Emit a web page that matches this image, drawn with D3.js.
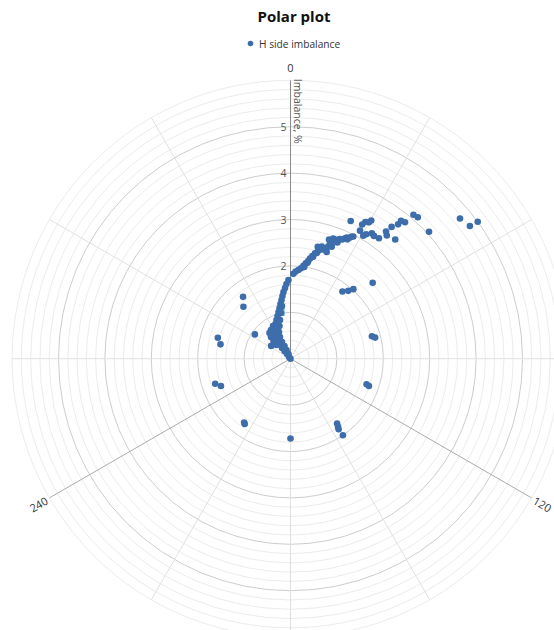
<!DOCTYPE html>
<html><head><meta charset="utf-8">
<script src="https://cdn.jsdelivr.net/npm/d3@7/dist/d3.min.js"></script>
<style>body{margin:0;background:#fff}svg{display:block}</style>
</head><body><svg id="c" width="554" height="630"></svg>
<script>
const chartTitle = "Polar plot";
const seriesName = "H side imbalance";
const axisTitle = "Imbalance, %";
const radialTicks = [1, 2, 3, 4, 5];
const angleLabels = [0, 120, 240];
const angleDeg = [
  0,
  358.5, 356.9, 355.6, 354.0, 352.7, 351.3, 349.6, 347.8, 345.6, 343.1, 340.1, 336.6, 332.5,
  328.3, 325.7, 324.2, 323.2, 321.5, 322.1, 323.3, 318.6,
  344.8, 341.4, 336.7, 334.2, 333, 334.7, 335.3, 337, 348.3, 350.8,
  331.8, 325.8, 320.7, 318.1, 316.2, 314.4,
  335.6, 331.3, 340.2, 329.5, 322.8, 334.7,
  1.9, 3.4, 5, 6.6, 7.9, 9.1, 10.3, 11, 12, 13.1, 14.4,
  13.7, 15.6, 17.2, 18.7, 18.6, 18.9, 17.9, 19.6, 21.7, 24.4, 20.2, 19.2, 21.3, 22.5,
  24.9, 26.6, 27.2, 28.5, 30.6, 31.3, 33, 34.2, 36.3, 23.6, 28.1, 28.7, 29.9, 30.3,
  36.9, 38, 41.3, 37.5, 38.7, 38.7, 40, 40.5, 42, 47.5, 50.4, 53.5, 53.8,
  8.5, 10, 12.5, 14, 16, 20, 22, 23.5, 25.5, 26,
  322.5, 317.8, 286.1, 281.6, 304.3, 303.5, 251.6, 248.6, 215, 216, 180,
  144.3, 145.1, 145.7, 145.6, 108.6, 109.2, 74.6, 76, 37.7, 40.4, 42.1, 47.3
];
const imbalancePct = [
  0,
  1.697, 1.612, 1.528, 1.445, 1.362, 1.280, 1.198, 1.118, 1.039, 0.962, 0.887, 0.815, 0.746,
  0.676, 0.592, 0.497, 0.396, 0.295, 0.210, 0.126, 0.049,
  0.864, 0.744, 0.627, 0.520, 0.404, 0.303, 0.206, 0.110, 1.006, 1.150,
  0.799, 0.748, 0.715, 0.629, 0.529, 0.422,
  0.679, 0.607, 0.795, 0.468, 0.641, 0.732,
  1.83, 1.88, 1.92, 1.96, 2.02, 2.08, 2.14, 2.20, 2.26, 2.33, 2.40,
  2.48, 2.51, 2.47, 2.43, 2.55, 2.63, 2.70, 2.75, 2.75, 2.85, 2.57, 2.69, 2.75, 2.79,
  2.88, 2.94, 2.96, 3.14, 3.08, 3.14, 3.22, 3.20, 3.22, 3.24, 3.28, 3.36, 3.39, 3.45,
  3.43, 3.37, 3.42, 3.58, 3.71, 3.81, 3.84, 4.08, 4.10, 4.05, 4.74, 4.81, 5.00,
  2.0, 2.1, 2.25, 2.35, 2.45, 2.6, 2.7, 2.8, 2.85, 2.9,
  1.68, 1.51, 1.63, 1.54, 0.93, 0.50, 1.71, 1.61, 1.72, 1.70, 1.72,
  1.72, 1.79, 1.84, 2.00, 1.73, 1.79, 1.82, 1.88, 1.83, 1.92, 2.02, 2.41
];

const FONT = "'Segoe UI','Open Sans','Noto Sans',sans-serif";
const cx = 290.5, cy = 358.7, R = 278.4, maxVal = 6;
const svg = d3.select("#c");
const rScale = d3.scaleLinear().domain([0, maxVal]).range([0, R]);
const aScale = d3.scaleLinear().domain([0, 360]).range([0, 2 * Math.PI]);
const px = (ang, v) => cx + rScale(v) * Math.sin(aScale(ang));
const py = (ang, v) => cy - rScale(v) * Math.cos(aScale(ang));

const g = svg.append("g");

// minor circles
const minor = d3.range(1, 31).map(i => i * 0.2).filter(v => Math.abs(v - Math.round(v)) > 1e-6 || v > 5.5);
g.selectAll("circle.minor").data(minor).join("circle")
  .attr("cx", cx).attr("cy", cy).attr("r", d => rScale(d))
  .attr("fill", "none").attr("stroke", "#ececec").attr("stroke-width", 1);
// major circles
g.selectAll("circle.major").data(radialTicks).join("circle")
  .attr("cx", cx).attr("cy", cy).attr("r", d => rScale(d))
  .attr("fill", "none").attr("stroke", "#cdcdcd").attr("stroke-width", 1);

// spokes
const spokes = d3.range(0, 360, 30);
g.selectAll("line.spoke").data(spokes.filter(s => !angleLabels.includes(s))).join("line")
  .attr("x1", cx).attr("y1", cy)
  .attr("x2", d => px(d, maxVal)).attr("y2", d => py(d, maxVal))
  .attr("stroke", "#e0e0e0").attr("stroke-width", 1);
g.selectAll("line.main").data(angleLabels).join("line")
  .attr("x1", cx).attr("y1", cy)
  .attr("x2", d => px(d, maxVal)).attr("y2", d => py(d, maxVal))
  .attr("stroke", d => d === 0 ? "#8a8a8a" : "#ababab").attr("stroke-width", 1);

// angle labels
g.selectAll("text.ang").data(angleLabels).join("text")
  .attr("transform", d => {
    const x = px(d, maxVal + 0.27), y = py(d, maxVal + 0.27);
    const rot = d === 0 ? 0 : (d < 180 ? d - 90 : d - 270);
    return `translate(${x},${y}) rotate(${rot})`;
  })
  .attr("text-anchor", "middle").attr("dominant-baseline", "central")
  .attr("font-family", FONT).attr("font-size", 11).attr("fill", "#333")
  .text(d => d);

// radial tick labels
g.selectAll("text.rt").data(radialTicks).join("text")
  .attr("x", cx - 4).attr("y", d => py(0, d))
  .attr("text-anchor", "end").attr("dominant-baseline", "central")
  .attr("font-family", FONT).attr("font-size", 10.5).attr("fill", "#555")
  .text(d => d);

// axis title
g.append("text")
  .attr("transform", `translate(${cx + 7},${cy - R + 31}) rotate(90)`)
  .attr("text-anchor", "middle").attr("dominant-baseline", "central")
  .attr("font-family", FONT).attr("font-size", 10.5).attr("fill", "#555")
  .text(axisTitle);

// points
const pts = angleDeg.map((a, i) => ({a, v: imbalancePct[i]}));
g.selectAll("circle.pt").data(pts).join("circle")
  .attr("cx", d => px(d.a, d.v)).attr("cy", d => py(d.a, d.v))
  .attr("r", 3.3).attr("fill", "#3d6dab");

// title
svg.append("text").attr("x", 294).attr("y", 22)
  .attr("text-anchor", "middle").attr("font-family", FONT)
  .attr("font-size", 15).attr("font-weight", "bold").attr("fill", "#111")
  .text(chartTitle);

// legend
svg.append("circle").attr("cx", 250.5).attr("cy", 43.5).attr("r", 2.8).attr("fill", "#3d6dab");
svg.append("text").attr("x", 259).attr("y", 43.5).attr("dominant-baseline", "central")
  .attr("font-family", FONT).attr("font-size", 10.2).attr("fill", "#333")
  .text(seriesName);
</script></body></html>
